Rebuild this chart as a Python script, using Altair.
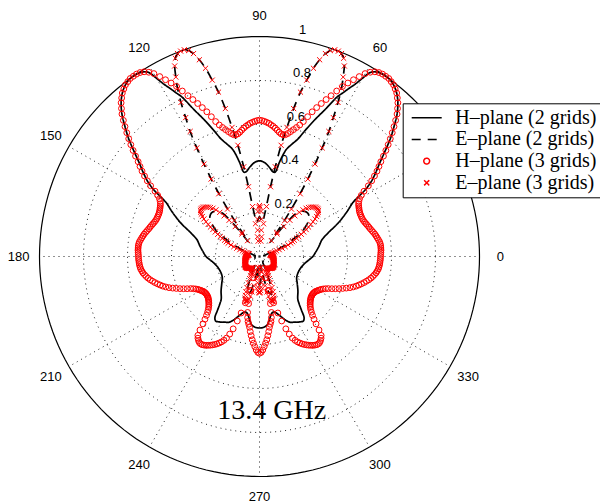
import altair as alt
import pandas as pd

# ---------------------------------------------------------------------------
# Normalised far-field patterns at 13.4 GHz
# ---------------------------------------------------------------------------
# 3-grid results: one sample per degree, 0 .. 359
pattern_deg = list(range(360))

h3_r = [
    .550, .551, .552, .553, .553, .553, .552, .550, .546, .542,
    .538, .534, .529, .524, .519, .515, .511, .507, .503, .500,
    .498, .497, .497, .497, .498, .500, .503, .506, .510, .516,
    .525, .540, .560, .590, .615, .638, .660, .680, .700, .725,
    .750, .775, .800, .825, .850, .875, .900, .920, .940, .955,
    .970, .980, .990, .995, 1.00, 1.00, 1.00, .997, .990, .977,
    .960, .935, .910, .885, .860, .830, .800, .775, .750, .725,
    .700, .672, .645, .625, .610, .597, .585, .574, .566, .564,
    .566, .572, .580, .588, .595, .601, .607, .611, .615, .618,
    .620, .618, .615, .611, .607, .601, .595, .588, .580, .572,
    .566, .564, .566, .574, .585, .597, .610, .625, .645, .672,
    .700, .725, .750, .775, .800, .830, .860, .885, .910, .935,
    .960, .977, .990, .997, 1.00, 1.00, 1.00, .995, .990, .980,
    .970, .955, .940, .920, .900, .875, .850, .825, .800, .775,
    .750, .725, .700, .680, .660, .638, .615, .590, .560, .540,
    .525, .516, .510, .506, .503, .500, .498, .497, .497, .497,
    .498, .500, .503, .507, .511, .515, .519, .524, .529, .534,
    .538, .542, .546, .550, .552, .553, .553, .553, .552, .551,
    .550, .550, .549, .548, .547, .545, .543, .539, .535, .529,
    .523, .516, .508, .499, .490, .480, .470, .460, .448, .435,
    .420, .405, .390, .375, .360, .345, .334, .325, .318, .313,
    .308, .304, .300, .298, .297, .296, .296, .297, .298, .300,
    .303, .306, .310, .315, .320, .327, .335, .346, .360, .378,
    .400, .430, .455, .465, .472, .477, .479, .478, .475, .471,
    .466, .461, .455, .449, .442, .434, .425, .414, .400, .378,
    .350, .310, .270, .220, .160, .100, .160, .220, .260, .283,
    .300, .312, .325, .344, .362, .380, .395, .410, .425, .436,
    .440, .436, .425, .410, .395, .380, .362, .344, .325, .312,
    .300, .283, .260, .220, .160, .100, .160, .220, .270, .310,
    .350, .378, .400, .414, .425, .434, .442, .449, .455, .461,
    .466, .471, .475, .478, .479, .477, .472, .465, .455, .430,
    .400, .378, .360, .346, .335, .327, .320, .315, .310, .306,
    .303, .300, .298, .297, .296, .296, .297, .298, .300, .304,
    .308, .313, .318, .325, .334, .345, .360, .375, .390, .405,
    .420, .435, .448, .460, .470, .480, .490, .499, .508, .516,
    .523, .529, .535, .539, .543, .545, .547, .548, .549, .550,
]

e3_r = [
    .060, .059, .058, .057, .056, .055, .054, .053, .052, .051,
    .050, .050, .050, .051, .054, .058, .064, .072, .082, .095,
    .110, .125, .140, .155, .165, .175, .188, .200, .215, .230,
    .245, .260, .275, .290, .305, .317, .327, .335, .340, .342,
    .342, .340, .336, .330, .323, .315, .305, .290, .270, .245,
    .215, .175, .130, .090, .135, .200, .260, .340, .415, .490,
    .570, .650, .715, .786, .850, .900, .948, .979, .995, 1.00,
    1.00, .990, .970, .935, .890, .830, .770, .690, .600, .515,
    .414, .321, .229, .150, .090, .070, .120, .170, .205, .225,
    .232, .225, .205, .170, .120, .070, .090, .150, .229, .321,
    .414, .515, .600, .690, .770, .830, .890, .935, .970, .990,
    1.00, 1.00, .995, .979, .948, .900, .850, .786, .715, .650,
    .570, .490, .415, .340, .260, .200, .135, .090, .130, .175,
    .215, .245, .270, .290, .305, .315, .323, .330, .336, .340,
    .342, .342, .340, .335, .327, .317, .305, .290, .275, .260,
    .245, .230, .215, .200, .188, .175, .165, .155, .140, .125,
    .110, .095, .082, .072, .064, .058, .054, .051, .050, .050,
    .050, .051, .052, .053, .054, .055, .056, .057, .058, .059,
    .060, .060, .061, .061, .062, .062, .063, .063, .064, .064,
    .065, .065, .066, .066, .067, .067, .068, .068, .069, .069,
    .070, .070, .071, .071, .072, .072, .073, .073, .074, .074,
    .075, .075, .076, .076, .077, .077, .078, .078, .078, .078,
    .078, .078, .077, .077, .076, .075, .074, .073, .072, .071,
    .070, .069, .068, .067, .066, .065, .064, .064, .064, .065,
    .066, .068, .072, .078, .085, .095, .110, .130, .152, .172,
    .188, .200, .208, .212, .212, .208, .200, .185, .165, .135,
    .100, .070, .050, .050, .070, .095, .120, .140, .155, .163,
    .165, .163, .155, .140, .120, .095, .070, .050, .050, .070,
    .100, .135, .165, .185, .200, .208, .212, .212, .208, .200,
    .188, .172, .152, .130, .110, .095, .085, .078, .072, .068,
    .066, .065, .064, .064, .064, .065, .066, .067, .068, .069,
    .070, .071, .072, .073, .074, .075, .076, .077, .077, .078,
    .078, .078, .078, .078, .078, .077, .077, .076, .076, .075,
    .075, .074, .074, .073, .073, .072, .072, .071, .071, .070,
    .070, .069, .069, .068, .068, .067, .067, .066, .066, .065,
    .065, .064, .064, .063, .063, .062, .062, .061, .061, .060,
]

# 2-grid results, given at their own angles (degrees)
h2_deg = [
    0, 5, 10, 15, 19, 23, 27, 30, 31, 32, 33, 34, 36, 38, 40, 42, 44, 46,
    48, 50, 52, 54, 56, 58, 59, 60, 61, 62, 63, 64, 66, 68, 70, 72, 74, 76,
    78, 79.5, 81, 84, 87, 90,
    93, 96, 99, 100.5, 102, 104, 106, 108, 110, 112, 114, 116, 117, 118,
    119, 120, 121, 122, 124, 126, 128, 130, 132, 134, 136, 138, 140, 142,
    144, 146, 147, 148, 149, 150, 153, 157, 161, 165, 170, 175, 180,
    184, 188, 195, 203, 210, 215, 222, 228, 230, 232, 234, 236, 238, 240,
    242, 245, 248, 251, 254, 256, 258, 260, 262, 264, 267,
    270, 273, 276, 278, 280, 282, 284, 286, 289, 292, 295, 298, 300, 302,
    304, 306, 308, 310, 312, 318, 325, 330, 337, 345, 352, 356, 360,
]
h2_r = [
    .243, .258, .275, .294, .330, .388, .445, .490, .520, .560, .590, .615,
    .655, .695, .745, .800, .850, .900, .940, .970, .990, 1.00, 1.00, .990,
    .975, .935, .895, .865, .835, .808, .730, .670, .612, .560, .530, .500,
    .440, .390, .390, .410, .428, .435,
    .428, .410, .390, .390, .440, .500, .530, .560, .612, .670, .730, .808,
    .835, .865, .895, .935, .975, .990, 1.00, 1.00, .990, .970, .940, .900,
    .850, .800, .745, .695, .655, .615, .590, .560, .520, .490, .445, .388,
    .330, .294, .275, .258, .243,
    .225, .210, .195, .190, .195, .209, .235, .260, .280, .310, .345, .355,
    .350, .345, .338, .330, .310, .285, .265, .260, .265, .280, .300, .315,
    .323,
    .325, .323, .315, .300, .280, .265, .260, .265, .285, .310, .330, .338,
    .345, .350, .355, .345, .310, .280, .260, .235, .209, .195, .190, .195,
    .210, .225, .243,
]

e2_deg = [
    0, 10, 15, 20, 24, 27, 30, 33, 36, 39, 42, 45, 48, 50, 51, 52, 53, 54,
    55, 56, 57, 58, 59, 60, 61, 62, 63, 64, 65, 66, 67, 68, 69, 70, 71, 72,
    73, 74, 75, 76, 77, 78, 79, 80, 81, 82, 83, 84, 86, 88, 90,
    92, 94, 96, 97, 98, 99, 100, 101, 102, 103, 104, 105, 106, 107, 108,
    109, 110, 111, 112, 113, 114, 115, 116, 117, 118, 119, 120, 121, 122,
    123, 124, 125, 126, 127, 128, 129, 130, 132, 135, 138, 141, 144, 147,
    150, 153, 156, 160, 165, 170, 180,
    200, 220, 240, 244, 247, 250, 253, 256, 259, 262, 265, 268,
    270, 272, 275, 278, 281, 284, 287, 290, 293, 296, 300, 320, 340, 360,
]
e2_r = [
    .020, .020, .030, .070, .130, .170, .220, .250, .275, .290, .295, .290,
    .275, .250, .210, .150, .080, .110, .180, .250, .330, .410, .490, .570,
    .650, .715, .786, .850, .900, .948, .979, .995, 1.00, 1.00, .990, .970,
    .935, .890, .830, .770, .690, .600, .515, .414, .321, .240, .195, .170,
    .155, .170, .180,
    .170, .155, .170, .195, .240, .321, .414, .515, .600, .690, .770, .830,
    .890, .935, .970, .990, 1.00, 1.00, .995, .979, .948, .900, .850, .786,
    .715, .650, .570, .490, .410, .330, .250, .180, .110, .080, .150, .210,
    .250, .275, .290, .295, .290, .275, .250, .220, .170, .130, .070, .030,
    .020, .020,
    .022, .025, .030, .050, .100, .160, .180, .160, .100, .040, .080, .120,
    .130, .120, .080, .040, .100, .160, .180, .160, .100, .050, .030, .025,
    .022, .020,
]

series_names = [
    "H\u2013plane (2 grids)",
    "E\u2013plane (2 grids)",
    "H\u2013plane (3 grids)",
    "E\u2013plane (3 grids)",
]

# polar grid: dotted rings, spokes every 30 degrees, labels
ring_values = [0.2, 0.4, 0.6, 0.8]
ring_label_values = [0.2, 0.4, 0.6, 0.8, 1.0]
ring_labels = ["0.2", "0.4", "0.6", "0.8", "1"]
spoke_angles = list(range(0, 360, 30))
# the 30-degree label sits under the legend box, so it is not written
angle_label_values = [0, 60, 90, 120, 150, 180, 210, 240, 270, 300, 330]
angle_labels = [str(a) for a in angle_label_values]
circle_steps = list(range(0, 361, 2))

# ---------------------------------------------------------------------------
# Tables
# ---------------------------------------------------------------------------
lines_df = pd.DataFrame({
    "series": [series_names[0]] * len(h2_deg) + [series_names[1]] * len(e2_deg),
    "k": list(range(len(h2_deg))) + list(range(len(e2_deg))),
    "deg": h2_deg + e2_deg,
    "r": h2_r + e2_r,
})
points_df = pd.DataFrame({
    "series": [series_names[2]] * len(h3_r) + [series_names[3]] * len(e3_r),
    "deg": pattern_deg + pattern_deg,
    "r": h3_r + e3_r,
})
ring_df = pd.DataFrame(
    [(rv, a, rv) for rv in ring_values for a in circle_steps],
    columns=["ring", "deg", "r"],
)
outer_df = pd.DataFrame({"deg": circle_steps, "r": [1.0] * len(circle_steps)})
spoke_df = pd.DataFrame(
    [(a, end, a, float(end)) for a in spoke_angles for end in (0, 1)],
    columns=["spoke", "k", "deg", "r"],
)
angle_label_df = pd.DataFrame({
    "deg": angle_label_values, "lab": angle_labels,
    "r": [1.095] * len(angle_label_values),
})
ring_label_df = pd.DataFrame({"r": ring_label_values, "lab": ring_labels, "deg": [82] * len(ring_labels)})
title_df = pd.DataFrame({"t": ["13.4 GHz"]})

# ---------------------------------------------------------------------------
# Scales and helpers
# ---------------------------------------------------------------------------
PX = 220.0  # pixels per unit radius
X = alt.X("px:Q", axis=None,
          scale=alt.Scale(domain=[-259.5 / PX, 340.5 / PX], nice=False, zero=False))
Y = alt.Y("py:Q", axis=None,
          scale=alt.Scale(domain=[-246.5 / PX, 256.5 / PX], nice=False, zero=False))


def polar(chart):
    return chart.transform_calculate(
        px="datum.r * cos(datum.deg * PI / 180)",
        py="datum.r * sin(datum.deg * PI / 180)",
    )


legend = alt.Legend(
    title=None, orient="none", legendX=402.7, legendY=103.3,
    padding=4.4, strokeColor="black", fillColor="white",
    labelFont="Liberation Serif", labelFontSize=20, labelColor="black",
    labelLimit=400, labelOffset=12.6, symbolOffset=3.6,
    clipHeight=20, rowPadding=1.7,
    symbolStrokeWidth=1.5, symbolFillColor="transparent",
)
color_scale = alt.Scale(domain=series_names, range=["black", "black", "#ff0000", "#ff0000"])
dash_scale = alt.Scale(domain=series_names, range=[[1, 0], [9, 7], [1, 0], [1, 0]])
shape_scale = alt.Scale(domain=series_names,
                        range=["stroke", "stroke", "circle", "M-1,-1L1,1M-1,1L1,-1"])
size_scale = alt.Scale(type="ordinal", domain=series_names, range=[900, 900, 34, 26])

# ---------------------------------------------------------------------------
# Layers
# ---------------------------------------------------------------------------
rings = polar(alt.Chart(ring_df)).mark_line(
    color="#222", strokeWidth=1, strokeDash=[1, 4]
).encode(x=X, y=Y, detail="ring:N", order="deg:Q")

spokes = polar(alt.Chart(spoke_df)).mark_line(
    color="#222", strokeWidth=1, strokeDash=[1, 4]
).encode(x=X, y=Y, detail="spoke:N", order="k:Q")

outer = polar(alt.Chart(outer_df)).mark_line(
    color="black", strokeWidth=1.2
).encode(x=X, y=Y, order="deg:Q")

ring_text = polar(alt.Chart(ring_label_df)).mark_text(
    font="Liberation Sans", fontSize=13, color="black",
    align="left", baseline="bottom", dx=9, dy=-2,
).encode(x=X, y=Y, text="lab:N")

pattern_lines = polar(alt.Chart(lines_df)).mark_line(
    strokeWidth=1.7, interpolate="catmull-rom"
).encode(
    x=X, y=Y, order="k:Q",
    color=alt.Color("series:N", scale=color_scale, legend=legend),
    strokeDash=alt.StrokeDash("series:N", scale=dash_scale, legend=legend),
)

pattern_points = polar(alt.Chart(points_df)).mark_point(
    filled=False, strokeWidth=1, opacity=1
).encode(
    x=X, y=Y,
    color=alt.Color("series:N", scale=color_scale, legend=legend),
    shape=alt.Shape("series:N", scale=shape_scale, legend=legend),
    size=alt.Size("series:N", scale=size_scale, legend=legend),
)

angle_text = polar(alt.Chart(angle_label_df)).mark_text(
    font="Liberation Sans", fontSize=13, color="black",
    align="center", baseline="middle",
).encode(x=X, y=Y, text="lab:N")

title = alt.Chart(title_df).mark_text(
    font="Liberation Serif", fontSize=28, color="black",
    align="center", baseline="alphabetic",
).encode(x=alt.value(271.7), y=alt.value(419), text="t:N")

chart = alt.layer(
    rings, spokes, outer, ring_text, pattern_lines, pattern_points, angle_text, title
).properties(
    width=600, height=503, padding=0, background="white",
    autosize=alt.AutoSizeParams(type="none"),
).configure_view(strokeWidth=0)

chart.save("out.html", embed_options={"renderer": "svg", "actions": False})
